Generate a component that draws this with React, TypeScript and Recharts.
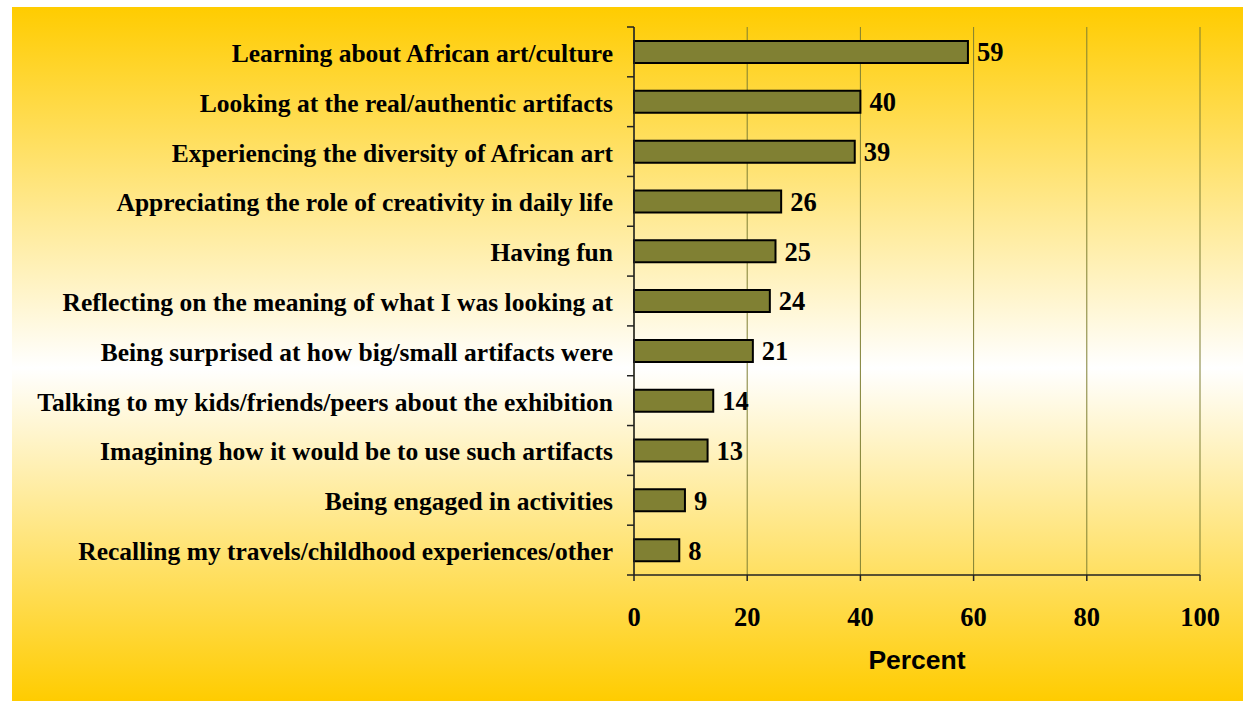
import React from 'react';
import { BarChart, Bar, XAxis, YAxis, CartesianGrid, LabelList } from 'recharts';

const categories = [
  'Learning about African art/culture',
  'Looking at the real/authentic artifacts',
  'Experiencing the diversity of African art',
  'Appreciating the role of creativity in daily life',
  'Having fun',
  'Reflecting on the meaning of what I was looking at',
  'Being surprised at how big/small artifacts were',
  'Talking to my kids/friends/peers about the exhibition',
  'Imagining how it would be to use such artifacts',
  'Being engaged in activities',
  'Recalling my travels/childhood experiences/other',
];
const percents = [59, 40, 39, 26, 25, 24, 21, 14, 13, 9, 8];
const xTicks = [0, 20, 40, 60, 80, 100];

const data = categories.map((c, i) => ({ name: c, value: percents[i] }));

const serif = '"Liberation Serif", "Times New Roman", serif';
const sans = '"Liberation Sans", Arial, sans-serif';

const Y_TICK_SIZE = 7;
const Y_TICK_MARGIN = 14;

function CategoryTick(props: any) {
  const { x, y, payload, index, visibleTicksCount } = props;
  const half = payload && payload.offset ? payload.offset : 0;
  const axisX = x + Y_TICK_SIZE + Y_TICK_MARGIN;
  const isLast = index === visibleTicksCount - 1;
  return (
    <g>
      <line x1={axisX - Y_TICK_SIZE} x2={axisX} y1={y - half} y2={y - half} stroke="#222" strokeWidth={1.5} />
      {isLast && (
        <line x1={axisX - Y_TICK_SIZE} x2={axisX} y1={y + half} y2={y + half} stroke="#222" strokeWidth={1.5} />
      )}
      <text
        x={x}
        y={y}
        dy={10}
        textAnchor="end"
        fill="#000"
        fontFamily={serif}
        fontWeight="bold"
        fontSize={25.5}
      >
        {payload.value}
      </text>
    </g>
  );
}

export default function App() {
  return (
    <div style={{ position: 'absolute', left: 0, top: 0, width: 1247, height: 701 }}>
      <div
        style={{
          position: 'absolute',
          left: 12,
          top: 7,
          width: 1231,
          height: 694,
          background: 'linear-gradient(to bottom, #FFCC00 0%, #FFFFFF 52%, #FFCC00 100%)',
        }}
      >
        <BarChart
          width={1231}
          height={694}
          data={data}
          layout="vertical"
          margin={{ top: 20, right: 43, bottom: 26, left: 0 }}
          barCategoryGap={0}
        >
          <CartesianGrid horizontal={false} vertical={true} stroke="#7F7F33" strokeWidth={1} />
          <XAxis
            type="number"
            domain={[0, 100]}
            ticks={xTicks}
            interval={0}
            height={100}
            axisLine={{ stroke: '#222', strokeWidth: 1.5 }}
            tickLine={{ stroke: '#222', strokeWidth: 1.5 }}
            tickSize={6}
            tickMargin={26}
            tick={{ fill: '#000', fontFamily: serif, fontWeight: 'bold', fontSize: 26.5 }}
            label={{
              value: 'Percent',
              position: 'insideBottom',
              offset: 6,
              fill: '#000',
              fontFamily: sans,
              fontWeight: 'bold',
              fontSize: 26.5,
            }}
          />
          <YAxis
            type="category"
            dataKey="name"
            width={622}
            interval={0}
            axisLine={{ stroke: '#222', strokeWidth: 1.5 }}
            tickLine={false}
            tickSize={Y_TICK_SIZE}
            tickMargin={Y_TICK_MARGIN}
            tick={<CategoryTick />}
          />
          <Bar
            dataKey="value"
            fill="#808033"
            stroke="#000"
            strokeWidth={2}
            barSize={22}
            isAnimationActive={false}
          >
            <LabelList
              dataKey="value"
              position="right"
              offset={9}
              fill="#000"
              fontFamily={serif}
              fontWeight="bold"
              fontSize={26.5}
            />
          </Bar>
        </BarChart>
      </div>
    </div>
  );
}
